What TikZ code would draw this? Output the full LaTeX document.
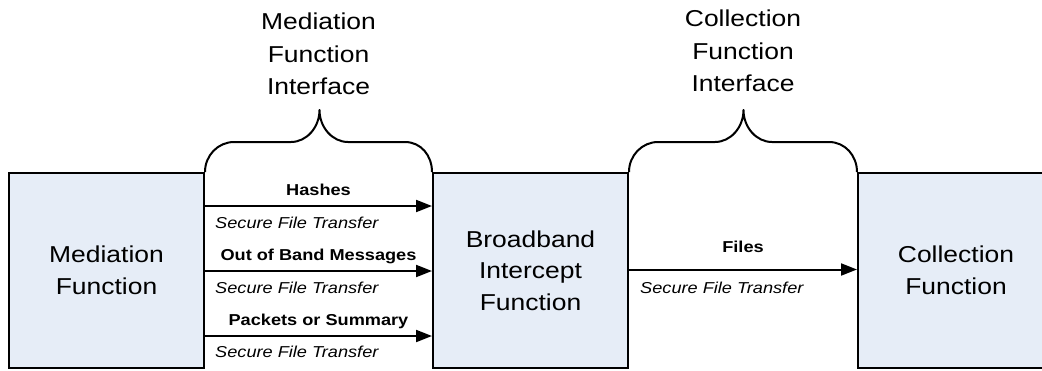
\documentclass[tikz,border=0pt]{standalone}
\usepackage{fontspec}
\setmainfont{Liberation Sans}[FakeStretch=1.15]
\usetikzlibrary{arrows.meta,calc}
\definecolor{boxfill}{RGB}{230,237,247}
\begin{document}
\begin{tikzpicture}[x=1pt,y=-1pt,
  box/.style={draw=black, line width=2pt, fill=boxfill, minimum width=195pt, minimum height=195pt, inner sep=0pt, align=center, font=\fontsize{23}{31.5}\selectfont},
  title/.style={align=center, inner sep=0pt, font=\fontsize{23}{32.5}\selectfont},
  lab/.style={inner sep=0pt, anchor=base, font=\fontsize{15.8}{18}\selectfont\bfseries},
  sft/.style={inner sep=0pt, anchor=base west, font=\fontsize{15.8}{18}\selectfont\itshape},
  arr/.style={line width=2pt, -{Triangle[length=16pt,width=12pt]}},
  brace/.style={line width=2pt, line join=round}]
\useasboundingbox (0,0) rectangle (1042,370);
\node[box] (med) at (106.5,270.5) {Mediation\\Function};
\node[box] (bif) at (530.5,270.5) {Broadband\\Intercept\\Function};
\node[box, minimum width=196pt] (col) at (956,270.5) {Collection\\Function};
% braces
\draw[brace] (med.north east) .. controls +(0,-16.5) and +(-16,0) .. ++(29,-30) -- ++(57,0)
  .. controls +(15.5,0) and +(0,17.5) .. ++(28.5,-32) coordinate (tip1)
  .. controls +(0,17.5) and +(-15.5,0) .. ++(28.5,32) -- ++(57,0)
  .. controls +(16,0) and +(0,-16.5) .. (bif.north west);
\draw[brace] (bif.north east) .. controls +(0,-16.5) and +(-16,0) .. ++(29,-30) -- ++(57,0)
  .. controls +(15.5,0) and +(0,17.5) .. ++(28.5,-32) coordinate (tip2)
  .. controls +(0,17.5) and +(-15.5,0) .. ++(28.5,32) -- ++(57,0)
  .. controls +(16,0) and +(0,-16.5) .. (col.north west);
\node[title] (t1) at (318.5,54) {Mediation\\Function\\Interface};
\node[title] (t2) at (743,51) {Collection\\Function\\Interface};
% arrows
\coordinate (y1) at (0,206);
\coordinate (y2) at (0,271);
\coordinate (y3) at (0,336);
\coordinate (y4) at (0,269.5);
\draw[arr] (med.east |- y1) -- (bif.west |- y1);
\draw[arr] (med.east |- y2) -- (bif.west |- y2);
\draw[arr] (med.east |- y3) -- (bif.west |- y3);
\draw[arr] (bif.east |- y4) -- (col.west |- y4);
% labels
\node[lab] (l1) at (318.5,195) {Hashes};
\node[lab] (l2) at (318.5,260) {Out of Band Messages};
\node[lab] (l3) at (318.5,325) {Packets or Summary};
\node[lab] (l4) at (743,252) {Files};
\node[sft] (s1) at (215,228) {Secure File Transfer};
\node[sft] (s2) at (215,293) {Secure File Transfer};
\node[sft] (s3) at (215,357) {Secure File Transfer};
\node[sft] (s4) at (640,293) {Secure File Transfer};
\end{tikzpicture}
\end{document}
